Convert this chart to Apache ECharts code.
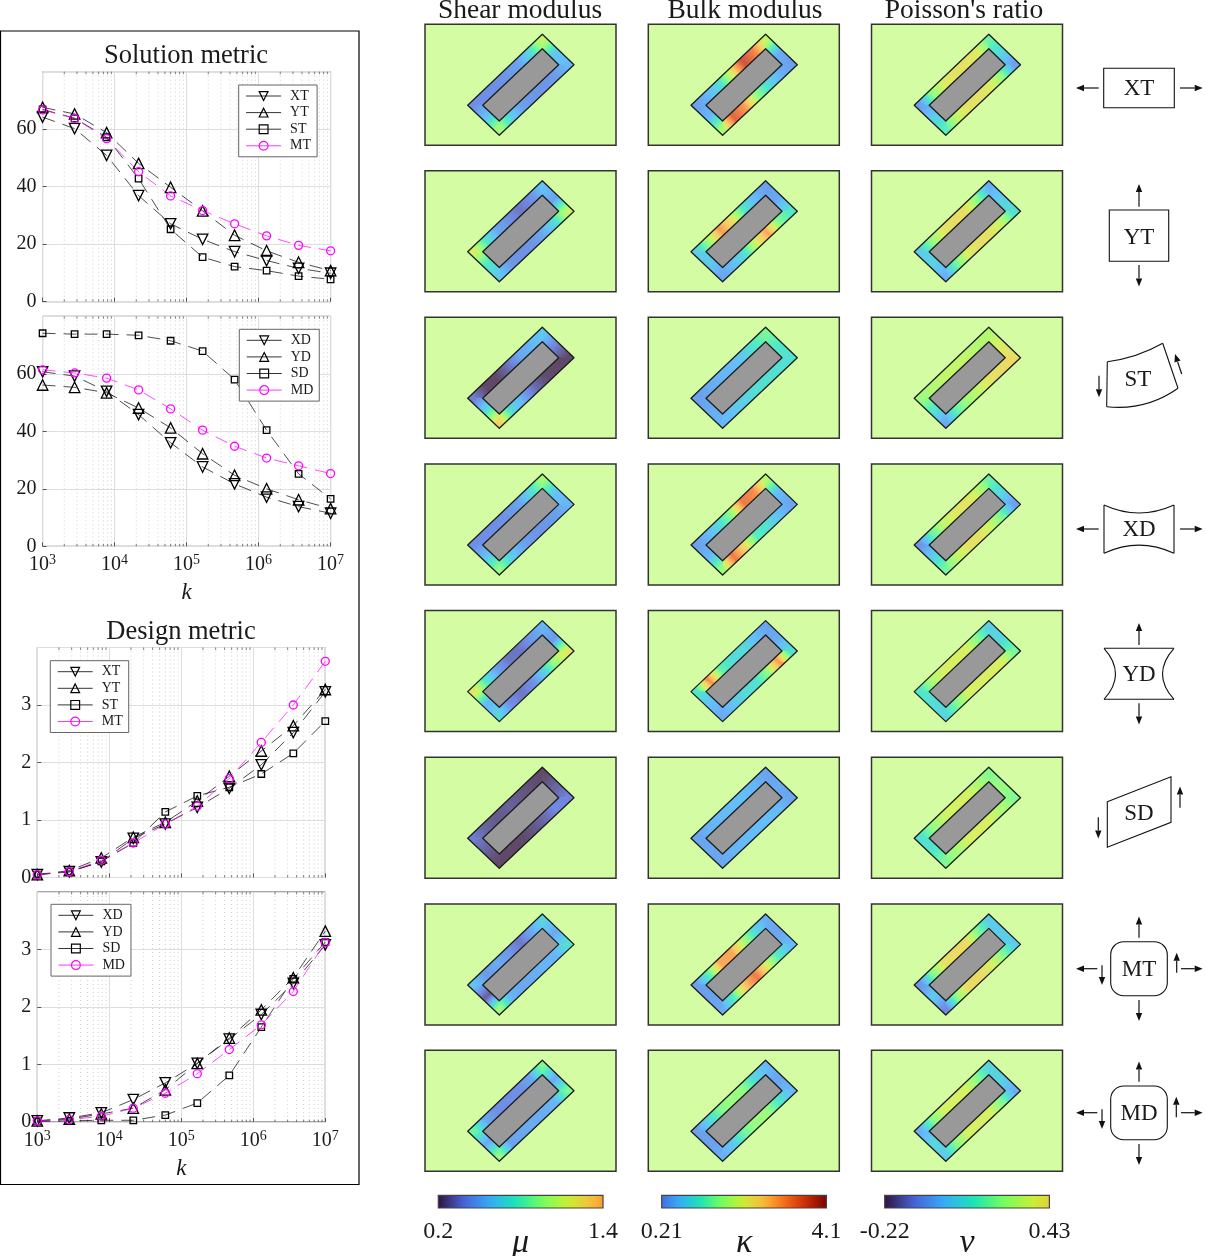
<!DOCTYPE html>
<html>
<head>
<meta charset="utf-8">
<title>Solution and design metrics</title>
<style>
  html, body { margin: 0; background: #fff; }
  #chart { width: 1206px; height: 1256px; }
</style>
<script src="https://cdn.jsdelivr.net/npm/echarts@6/dist/echarts.min.js"></script>
</head>
<body>
<div id="chart"></div>
<script>
// penalty values on the x axis
const kValues = [1000, 2783, 7743, 21544, 59948, 166810, 464159, 1291550, 3593814, 10000000]
const minorK = [2e3, 3e3, 4e3, 5e3, 6e3, 7e3, 8e3, 9e3, 2e4, 3e4, 4e4, 5e4, 6e4, 7e4, 8e4, 9e4,
  2e5, 3e5, 4e5, 5e5, 6e5, 7e5, 8e5, 9e5, 2e6, 3e6, 4e6, 5e6, 6e6, 7e6, 8e6, 9e6]

// solution metric, tension loads
const solXT = [64.2, 60.2, 50.9, 36.9, 27.1, 21.7, 17.4, 14.3, 11.6, 9.9]
const solYT = [67.6, 65.3, 58.8, 48.1, 39.8, 31.6, 23.1, 17.7, 13.7, 10.8]
const solST = [66.9, 63.8, 57.2, 42.8, 25.2, 15.5, 12.2, 10.8, 8.9, 7.8]
const solMT = [66.7, 63.8, 56.7, 45.2, 36.8, 31.7, 27.1, 22.9, 19.6, 17.7]
// solution metric, displacement loads
const solXD = [60.7, 59.2, 53.9, 45.8, 36, 27.6, 21.7, 17.1, 13.8, 11.5]
const solYD = [56.1, 55.3, 53.4, 48.1, 41.2, 32.2, 24.7, 20, 16.2, 13.1]
const solSD = [74.1, 73.8, 73.8, 73.4, 71.5, 67.9, 58, 40.4, 25.2, 16.5]
const solMD = [61.4, 60.3, 58.5, 54.4, 47.8, 40.4, 34.8, 30.7, 28, 25.3]
// design metric, tension loads
const desXT = [0.05, 0.1, 0.27, 0.68, 0.93, 1.22, 1.55, 1.96, 2.52, 3.23]
const desYT = [0.05, 0.12, 0.34, 0.7, 0.96, 1.33, 1.76, 2.2, 2.64, 3.27]
const desST = [0.05, 0.1, 0.28, 0.6, 1.14, 1.42, 1.57, 1.8, 2.16, 2.72]
const desMT = [0.05, 0.1, 0.3, 0.6, 0.93, 1.24, 1.72, 2.35, 3, 3.76]
// design metric, displacement loads
const desXD = [0.02, 0.07, 0.16, 0.39, 0.68, 1.02, 1.44, 1.87, 2.41, 3.08]
const desYD = [0.02, 0.05, 0.14, 0.24, 0.56, 1.02, 1.46, 1.95, 2.51, 3.32]
const desSD = [0.01, 0.02, 0.03, 0.03, 0.12, 0.33, 0.81, 1.65, 2.49, 3.13]
const desMD = [0.02, 0.04, 0.1, 0.24, 0.5, 0.84, 1.26, 1.69, 2.27, 3.12]

// field values around the lattice ring: left corner, 5 along upper side, top corner,
// 1 on short side, right corner, 5 along lower side, bottom corner, 1 on short side
const shearXT = [.42, .42, .42, .45, .5, .72, 1.1, .62, .56, .46, .44, .44, .48, .66, 1.02, .6]
const shearYT = [1.15, .75, .5, .42, .34, .42, .6, .48, 1.1, .72, .52, .44, .42, .45, .62, .75]
const shearST = [.36, .2, .2, .33, .5, .55, .62, .38, .2, .2, .22, .34, .55, .7, 1.3, .7]
const shearXD = [.42, .42, .42, .44, .5, .7, 1, .6, .55, .47, .44, .44, .5, .65, .95, .6]
const shearYD = [1.2, .75, .48, .34, .34, .45, .55, .45, 1.2, 1, .65, .42, .34, .42, .68, .55]
const shearSD = [.36, .28, .25, .28, .25, .22, .2, .28, .38, .4, .3, .24, .2, .2, .2, .28]
const shearMT = [.6, .45, .52, .45, .34, .5, .68, .5, .72, .55, .55, .52, .5, .55, 1, .26]
const shearMD = [.85, .5, .42, .42, .42, .5, .9, .5, .9, .55, .52, .52, .5, .48, .95, .5]

const bulkXT = [.35, .6, 1, 2.2, 3.7, 3.2, 2, .5, .35, .55, 1, 1.7, 3, 3.5, 1.8, .6]
const bulkYT = [.8, 1.8, 3, 2.3, 1.1, .6, .35, .45, 1.1, 1.5, 2.9, 2.1, 1, .65, .4, .75]
const bulkST = [.35, .45, .55, .6, .75, 1.1, 1.45, 1.1, 1, 1, 1, 1, .85, .7, .55, .45]
const bulkXD = [.35, .6, 1, 1.7, 3.3, 3.1, 1.9, .6, .4, .65, 1, 1.2, 2.4, 3.3, 1.7, .6]
const bulkYD = [1.1, 3.1, 1.3, .95, .95, .65, .4, .45, 1, 3, 1.6, 1, .95, .7, .45, .65]
const bulkSD = [.4, .55, .6, .62, .62, .55, .4, .45, .4, .6, .62, .62, .6, .55, .42, .42]
const bulkMT = [.35, 1.3, 2.9, 2.9, 1.9, .95, .5, .4, .6, 1.1, 2.1, 3.3, 2.6, 1.2, .45, .35]
const bulkMD = [.35, .9, 1.5, 1.7, 1.6, .9, .6, .4, .6, 1.1, 1.7, 1.7, 1.4, .75, .5, .35]

const poissonXT = [-.05, .24, .38, .41, .41, .38, .18, .08, -.05, .24, .38, .41, .41, .33, .15, .05]
const poissonYT = [.05, .26, .4, .43, .41, .22, -.02, .06, .1, .32, .41, .42, .38, .2, -.02, .07]
const poissonST = [.27, .3, .33, .33, .33, .3, .3, .38, .43, .43, .41, .33, .28, .17, -.03, .12]
const poissonXD = [-.07, .18, .33, .39, .41, .33, .18, .08, -.05, .2, .34, .41, .41, .32, .2, .06]
const poissonYD = [.12, .3, .37, .37, .37, .22, .06, .08, .2, .37, .38, .37, .36, .22, .07, .1]
const poissonSD = [.1, .25, .34, .37, .37, .3, .22, .26, .22, .29, .36, .38, .36, .28, .22, .12]
const poissonMT = [-.07, .22, .41, .43, .43, .22, .05, .05, .05, .24, .38, .43, .43, .24, -.1, .05]
const poissonMD = [-.02, .22, .36, .37, .36, .22, .07, .07, -.02, .22, .36, .37, .36, .24, .05, .08]

const shearPanels = [shearXT, shearYT, shearST, shearXD, shearYD, shearSD, shearMT, shearMD]
const bulkPanels = [bulkXT, bulkYT, bulkST, bulkXD, bulkYD, bulkSD, bulkMT, bulkMD]
const poissonPanels = [poissonXT, poissonYT, poissonST, poissonXD, poissonYD, poissonSD, poissonMT, poissonMD]

// colour bar ends
const shearTicks = [0.2, 1.4]
const bulkTicks = [0.21, 4.1]
const poissonTicks = [-0.22, 0.43]

const serif = '"Liberation Serif", serif'
const ink = '#1a1a1a'
const panelGreen = '#d4fca3'
const turbo = ['#30123b', '#4662d7', '#36aaf9', '#1ae4b6', '#72fe5e', '#c8ef34', '#faba39', '#f66b19', '#cb2a04', '#7a0403']

// each column only uses a stretch of the colour map
const columns = [
  { title: 'Shear modulus', symbol: 'μ', panels: shearPanels, ticks: shearTicks, from: 0, to: 0.71, x: 425, barX: 438.3, cx: 520 },
  { title: 'Bulk modulus', symbol: 'κ', panels: bulkPanels, ticks: bulkTicks, from: 0.13, to: 1, x: 648.3, barX: 661.7, cx: 745 },
  { title: "Poisson's ratio", symbol: 'ν', panels: poissonPanels, ticks: poissonTicks, from: 0, to: 0.62, x: 871.5, barX: 884.7, cx: 964 }
]
const rowTops = [24.3, 170.8, 317.3, 464, 610.6, 757.3, 904, 1050.3]
const panelW = 191
const panelH = 121
const barW = 164.7
const barTop = 1195.3
const barH = 12.7

// lattice ring in panel coordinates: left, top, right, bottom
const outerRing = [[42.7, 81], [117.3, 10], [149, 40.4], [74.3, 111]]
const innerRing = [[57.7, 81], [117.3, 24.4], [133.7, 40.4], [74.3, 96.7]]
const sideSteps = [6, 2, 6, 2]
const nodeCount = 16

function ringPoint (corners, i) {
  let n = i % nodeCount
  for (let s = 0; s < 4; s++) {
    if (n <= sideSteps[s]) {
      const a = corners[s]
      const b = corners[(s + 1) % 4]
      const f = n / sideSteps[s]
      return [a[0] + (b[0] - a[0]) * f, a[1] + (b[1] - a[1]) * f]
    }
    n -= sideSteps[s]
  }
}

function fieldColor (col, value) {
  const lo = col.ticks[0]
  const hi = col.ticks[1]
  const p = Math.min(1, Math.max(0, (value - lo) / (hi - lo)))
  return echarts.color.lerp(col.from + (col.to - col.from) * p, turbo)
}

// the lattice is printed washed out compared with the colour bar
function paleColor (col, value) {
  return echarts.color.lerp(0.77, ['#ffffff', fieldColor(col, value)])
}

function renderCell (col, values) {
  return function (params, api) {
    const i = api.value(0)
    const next = (i + 1) % nodeCount
    const o1 = api.coord(ringPoint(outerRing, i))
    const o2 = api.coord(ringPoint(outerRing, next))
    const n1 = api.coord(ringPoint(innerRing, i))
    const n2 = api.coord(ringPoint(innerRing, next))
    const stops = []
    for (let s = 0; s <= 8; s++) {
      const v = api.value(1) + (values[next] - api.value(1)) * s / 8
      stops.push({ offset: s / 8, color: paleColor(col, v) })
    }
    const fill = new echarts.graphic.LinearGradient(
      (o1[0] + n1[0]) / 2, (o1[1] + n1[1]) / 2, (o2[0] + n2[0]) / 2, (o2[1] + n2[1]) / 2, stops, true)
    return {
      type: 'polygon',
      shape: { points: [o1, o2, n2, n1] },
      style: { fill: fill, stroke: fill, lineWidth: 0.7 }
    }
  }
}

function renderOutline (params, api) {
  const edge = { stroke: '#1c1c1c', lineWidth: 1.3, lineJoin: 'round' }
  return {
    type: 'group',
    children: [
      { type: 'polygon', shape: { points: outerRing.map(p => api.coord(p)) }, style: Object.assign({ fill: 'none' }, edge) },
      { type: 'polygon', shape: { points: innerRing.map(p => api.coord(p)) }, style: Object.assign({ fill: '#999999' }, edge) }
    ]
  }
}

function renderBar (col) {
  return function (params, api) {
    const a = api.coord([api.value(0), 1])
    const b = api.coord([api.value(1), 0])
    const stops = []
    for (let s = 0; s <= 20; s++) {
      stops.push({ offset: s / 20, color: fieldColor(col, col.ticks[0] + (col.ticks[1] - col.ticks[0]) * s / 20) })
    }
    return {
      type: 'rect',
      shape: { x: a[0], y: a[1], width: b[0] - a[0], height: b[1] - a[1] },
      style: { fill: new echarts.graphic.LinearGradient(0, 0, 1, 0, stops), stroke: '#444', lineWidth: 1.2 }
    }
  }
}

function renderMinor (params, api) {
  const x = api.coord([api.value(0), 0])[0]
  const top = params.coordSys.y
  const bottom = top + params.coordSys.height
  return {
    type: 'group',
    silent: true,
    children: [
      { type: 'line', shape: { x1: x, y1: top, x2: x, y2: bottom }, style: { stroke: '#d0d0d0', lineWidth: 1, lineDash: [1, 3] } },
      { type: 'line', shape: { x1: x, y1: top, x2: x, y2: top + 2.5 }, style: { stroke: '#555', lineWidth: 0.7 } },
      { type: 'line', shape: { x1: x, y1: bottom, x2: x, y2: bottom - 2.5 }, style: { stroke: '#555', lineWidth: 0.7 } }
    ]
  }
}

const grids = []
const xAxes = []
const yAxes = []
const series = []
const legends = []

function lineStyleFor (code) {
  if (code === 'M') return { symbol: 'circle', size: 8, color: '#ff00ff' }
  if (code === 'S') return { symbol: 'rect', size: 6.5, color: '#000' }
  if (code === 'Y') return { symbol: 'triangle', size: 10.5, color: '#000' }
  return { symbol: 'triangle', size: 10.5, color: '#000', rotate: 180 }
}

function addLinePlot (opt) {
  const idx = grids.length
  grids.push({
    left: opt.left, top: opt.top, width: 288, height: 230, outerBoundsMode: 'none',
    show: true, borderColor: '#555', borderWidth: 1, backgroundColor: '#fff'
  })
  xAxes.push({
    type: 'log',
    logBase: 10,
    gridIndex: idx,
    min: 1000,
    max: 10000000,
    axisLine: { show: false },
    axisTick: { show: true, inside: true, length: 4, lineStyle: { color: '#555' } },
    splitLine: { show: true, lineStyle: { color: '#dedede', width: 1 } },
    name: opt.showX ? 'k' : '',
    nameLocation: 'middle',
    nameGap: 35,
    nameTextStyle: { fontFamily: serif, fontStyle: 'italic', fontSize: 23, color: ink },
    axisLabel: {
      show: opt.showX,
      margin: 7,
      formatter: v => '{b|10}{e|' + Math.round(Math.log10(v)) + '}',
      rich: {
        b: { fontFamily: serif, fontSize: 20, color: ink },
        e: { fontFamily: serif, fontSize: 14, color: ink, padding: [0, 0, 9, 0] }
      }
    }
  })
  yAxes.push({
    type: 'value',
    gridIndex: idx,
    min: 0,
    max: opt.max,
    interval: opt.step,
    axisLine: { show: false },
    axisTick: { show: true, inside: true, length: 4, lineStyle: { color: '#555' } },
    splitLine: { show: true, lineStyle: { color: '#dedede', width: 1 } },
    axisLabel: { showMaxLabel: false, margin: 6, fontFamily: serif, fontSize: 20, color: ink }
  })
  series.push({
    type: 'custom',
    xAxisIndex: idx,
    yAxisIndex: idx,
    silent: true,
    renderItem: renderMinor,
    data: minorK.map(k => [k, 0])
  })
  opt.lines.forEach(function (item) {
    const look = lineStyleFor(item.name[0] === 'M' ? 'M' : item.name[0])
    series.push({
      type: 'line',
      name: item.name,
      xAxisIndex: idx,
      yAxisIndex: idx,
      clip: false,
      symbol: look.symbol,
      symbolSize: look.size,
      symbolRotate: look.rotate || 0,
      z: 3,
      lineStyle: { color: look.color, width: 0.7, type: [13, 8] },
      itemStyle: { color: 'rgba(255,255,255,0)', borderColor: look.color, borderWidth: 1.3 },
      data: kValues.map((k, n) => [k, item.values[n]])
    })
  })
  legends.push({
    data: opt.lines.map(item => item.name),
    orient: 'vertical',
    left: opt.legendX,
    top: opt.legendY,
    width: 78,
    padding: [4, 6, 4, 7],
    itemWidth: 35,
    itemHeight: 11,
    itemGap: 2.6,
    selectedMode: false,
    backgroundColor: '#fff',
    borderColor: '#666',
    borderWidth: 1,
    itemStyle: { borderWidth: 1.2 },
    lineStyle: { type: 'solid', width: 0.8 },
    textStyle: { fontFamily: serif, fontSize: 14, color: ink, padding: [0, 0, 0, 4] }
  })
}

addLinePlot({
  left: 42.6, top: 71.7, max: 80, step: 20, showX: false, legendX: 238.7, legendY: 85,
  lines: [{ name: 'XT', values: solXT }, { name: 'YT', values: solYT }, { name: 'ST', values: solST }, { name: 'MT', values: solMT }]
})
addLinePlot({
  left: 42.6, top: 316.3, max: 80, step: 20, showX: true, legendX: 239.3, legendY: 329.3,
  lines: [{ name: 'XD', values: solXD }, { name: 'YD', values: solYD }, { name: 'SD', values: solSD }, { name: 'MD', values: solMD }]
})
addLinePlot({
  left: 37.3, top: 647.5, max: 4, step: 1, showX: false, legendX: 50.3, legendY: 660.7,
  lines: [{ name: 'XT', values: desXT }, { name: 'YT', values: desYT }, { name: 'ST', values: desST }, { name: 'MT', values: desMT }]
})
addLinePlot({
  left: 37.3, top: 892, max: 4, step: 1, showX: true, legendX: 51, legendY: 904.3,
  lines: [{ name: 'XD', values: desXD }, { name: 'YD', values: desYD }, { name: 'SD', values: desSD }, { name: 'MD', values: desMD }]
})

// lattice panels, one small grid each in panel pixels
columns.forEach(function (col) {
  col.panels.forEach(function (values, r) {
    const idx = grids.length
    grids.push({
      left: col.x, top: rowTops[r], width: panelW, height: panelH, outerBoundsMode: 'none',
      show: true, backgroundColor: panelGreen, borderColor: '#333', borderWidth: 1.5
    })
    xAxes.push({ type: 'value', gridIndex: idx, show: false, min: 0, max: panelW })
    yAxes.push({ type: 'value', gridIndex: idx, show: false, min: 0, max: panelH, inverse: true })
    series.push({
      type: 'custom',
      xAxisIndex: idx,
      yAxisIndex: idx,
      silent: true,
      encode: { x: 0 },
      renderItem: renderCell(col, values),
      data: values.map((v, i) => [i, v])
    })
    series.push({
      type: 'custom',
      xAxisIndex: idx,
      yAxisIndex: idx,
      silent: true,
      z: 3,
      encode: { x: 0 },
      renderItem: renderOutline,
      data: [[0, 0]]
    })
  })
  // colour bar under the column
  const idx = grids.length
  grids.push({ left: col.barX, top: barTop, width: barW, height: barH, outerBoundsMode: 'none' })
  xAxes.push({
    type: 'value',
    gridIndex: idx,
    min: col.ticks[0],
    max: col.ticks[1],
    axisLine: { show: false },
    axisTick: { show: false },
    splitLine: { show: false },
    name: col.symbol,
    nameLocation: 'middle',
    nameGap: 18,
    nameMoveOverlap: false,
    nameTextStyle: { fontFamily: serif, fontStyle: 'italic', fontSize: 34, color: ink },
    axisLabel: { customValues: col.ticks, margin: 12, fontFamily: serif, fontSize: 24, color: ink }
  })
  yAxes.push({ type: 'value', gridIndex: idx, show: false, min: 0, max: 1 })
  series.push({
    type: 'custom',
    xAxisIndex: idx,
    yAxisIndex: idx,
    silent: true,
    encode: { x: [0, 1] },
    renderItem: renderBar(col),
    data: [[col.ticks[0], col.ticks[1]]]
  })
})

// load case sketches beside the panels
const sketch = []
const edgeStyle = { fill: 'none', stroke: '#111', lineWidth: 1.1 }

function arrow (x1, y1, x2, y2) {
  const len = Math.hypot(x2 - x1, y2 - y1)
  const ux = (x2 - x1) / len
  const uy = (y2 - y1) / len
  const bx = x2 - ux * 8
  const by = y2 - uy * 8
  sketch.push({ type: 'line', shape: { x1: x1, y1: y1, x2: bx, y2: by }, style: { stroke: '#111', lineWidth: 1.2 } })
  sketch.push({
    type: 'polygon',
    shape: { points: [[x2, y2], [bx - uy * 3.2, by + ux * 3.2], [bx + uy * 3.2, by - ux * 3.2]] },
    style: { fill: '#111' }
  })
}

function curve (x1, y1, cx, cy, x2, y2) {
  sketch.push({ type: 'bezierCurve', shape: { x1: x1, y1: y1, x2: x2, y2: y2, cpx1: cx, cpy1: cy }, style: edgeStyle })
}

function edge (x1, y1, x2, y2) {
  sketch.push({ type: 'line', shape: { x1: x1, y1: y1, x2: x2, y2: y2 }, style: edgeStyle })
}

function sketchLabel (text, x, y) {
  sketch.push({
    type: 'text',
    style: { text: text, x: x, y: y + 1, align: 'center', verticalAlign: 'middle', fontFamily: serif, fontSize: 23, fill: ink }
  })
}

// XT
sketch.push({ type: 'rect', shape: { x: 1103.7, y: 68.3, width: 70.6, height: 39.4 }, style: edgeStyle })
sketchLabel('XT', 1139, 88)
arrow(1098.7, 88, 1076, 88)
arrow(1180, 88, 1202.7, 88)
// YT
sketch.push({ type: 'rect', shape: { x: 1109.3, y: 210, width: 59.4, height: 51.3 }, style: edgeStyle })
sketchLabel('YT', 1139, 237)
arrow(1139, 206.7, 1139, 184)
arrow(1139, 265, 1139, 286.5)
// ST
curve(1107.3, 361.7, 1137, 358, 1162.7, 343.3)
edge(1162.7, 343.3, 1178, 388.3)
curve(1178, 388.3, 1146, 411, 1106.7, 406.7)
edge(1106.7, 406.7, 1107.3, 361.7)
sketchLabel('ST', 1138, 379)
arrow(1181.7, 374, 1175, 354)
arrow(1099, 375.7, 1099, 397.3)
// XD
curve(1104, 505, 1139, 521, 1174, 505)
edge(1174, 505, 1174, 553.3)
curve(1174, 553.3, 1139, 537, 1104, 553.3)
edge(1104, 553.3, 1104, 505)
sketchLabel('XD', 1139, 529)
arrow(1098.7, 529, 1076, 529)
arrow(1180, 529, 1202.7, 529)
// YD
edge(1104, 648.3, 1174, 648.3)
curve(1174, 648.3, 1151, 674, 1174, 699.3)
edge(1174, 699.3, 1104, 699.3)
curve(1104, 699.3, 1127, 674, 1104, 648.3)
sketchLabel('YD', 1139, 674)
arrow(1139, 645, 1139, 623)
arrow(1139, 703.3, 1139, 724.5)
// SD
sketch.push({
  type: 'polygon',
  shape: { points: [[1107.3, 801.7], [1171, 776.7], [1171, 822.3], [1107.3, 847.3]] },
  style: edgeStyle
})
sketchLabel('SD', 1139, 813)
arrow(1180, 807.7, 1180, 786.5)
arrow(1098.3, 817.3, 1098.3, 838.5)
// MT
sketch.push({ type: 'rect', shape: { x: 1110.7, y: 941.7, width: 56.6, height: 54, r: 13 }, style: edgeStyle })
sketchLabel('MT', 1139, 969)
arrow(1139, 937.7, 1139, 916.5)
arrow(1139, 1000, 1139, 1021)
arrow(1097.3, 968.7, 1076, 968.7)
arrow(1181, 968.7, 1202.7, 968.7)
arrow(1102, 965.3, 1102, 985)
arrow(1176.7, 972.7, 1176.7, 952.7)
// MD
sketch.push({ type: 'rect', shape: { x: 1110.7, y: 1086, width: 56.6, height: 53.7, r: 13 }, style: edgeStyle })
sketchLabel('MD', 1139, 1113)
arrow(1139, 1081.7, 1139, 1061.5)
arrow(1139, 1144, 1139, 1165)
arrow(1097.3, 1112.7, 1076, 1112.7)
arrow(1181, 1112.7, 1202.7, 1112.7)
arrow(1102, 1109.3, 1102, 1129)
arrow(1176.3, 1117.3, 1176.3, 1096.7)

// box round the two metric plots
sketch.push({ type: 'rect', z: -1, shape: { x: 0.5, y: 31, width: 358.5, height: 1153.5 }, style: { fill: 'none', stroke: '#000', lineWidth: 1.2 } })

const titleFont = { fontFamily: serif, fontSize: 26.5, fontWeight: 'normal', color: ink }
const columnFont = { fontFamily: serif, fontSize: 27.5, fontWeight: 'normal', color: ink }
const titles = [
  { text: 'Solution metric', left: 186, top: 43, textAlign: 'center', textStyle: titleFont, padding: 0 },
  { text: 'Design metric', left: 181, top: 619, textAlign: 'center', textStyle: titleFont, padding: 0 }
]
columns.forEach(col => titles.push({ text: col.title, left: col.cx, top: -3, textAlign: 'center', textStyle: columnFont, padding: 0 }))

const myChart = echarts.init(document.getElementById('chart'), null, { renderer: 'canvas' })
myChart.setOption({
  animation: false,
  title: titles,
  tooltip: { show: false },
  legend: legends,
  grid: grids,
  xAxis: xAxes,
  yAxis: yAxes,
  series: series,
  graphic: { elements: sketch }
})
</script>
</body>
</html>
